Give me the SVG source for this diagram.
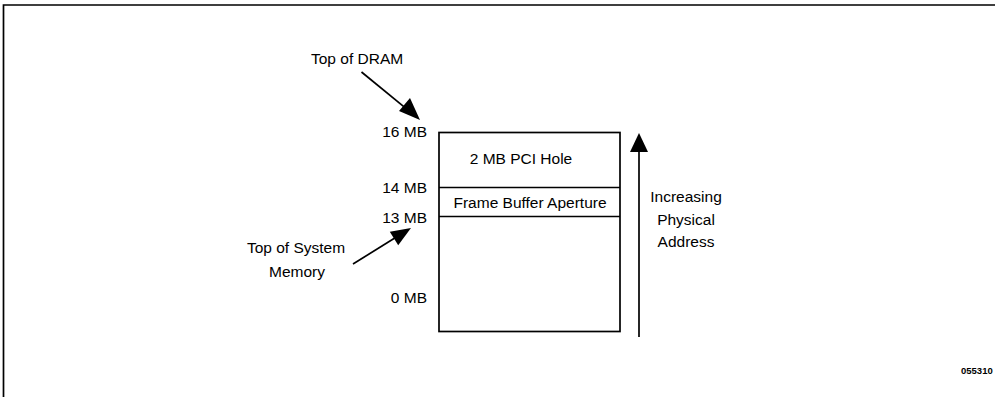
<svg xmlns="http://www.w3.org/2000/svg" width="995" height="397" viewBox="0 0 995 397">
<style>
  text { font-family: "Liberation Sans", Arial, sans-serif; fill: #000; }
  .lbl { font-size: 15.5px; }
  .mb { font-size: 15.5px; text-anchor: end; }
  .c { text-anchor: middle; }
  .ln { stroke: #000; stroke-width: 1.7; fill: none; }
</style>
<rect x="0" y="0" width="995" height="397" fill="#fff"/>
<g id="frame">
  <path d="M3.5,397 V5 H995" class="ln"/>
</g>
<g id="memory-map">
  <rect x="439" y="132.5" width="181" height="199" class="ln"/>
  <line x1="439" y1="187.5" x2="620" y2="187.5" class="ln"/>
  <line x1="439" y1="216.5" x2="620" y2="216.5" class="ln"/>
</g>
<g id="pci-hole">
  <text class="lbl c" x="521" y="164">2 MB PCI Hole</text>
</g>
<g id="frame-buffer">
  <text class="lbl c" x="530" y="208">Frame Buffer Aperture</text>
</g>
<g id="address-labels">
  <text class="mb" x="427" y="137">16 MB</text>
  <text class="mb" x="427" y="193">14 MB</text>
  <text class="mb" x="427" y="223">13 MB</text>
  <text class="mb" x="427" y="303">0 MB</text>
</g>
<g id="top-of-dram">
  <text class="lbl" x="311" y="64">Top of DRAM</text>
</g>
<g id="top-of-system-memory">
  <text class="lbl c" x="296" y="253">Top of System</text>
  <text class="lbl c" x="297" y="277">Memory</text>
</g>
<g id="increasing-address">
  <text class="lbl c" x="686" y="202">Increasing</text>
  <text class="lbl c" x="686" y="225">Physical</text>
  <text class="lbl c" x="686" y="247">Address</text>
</g>
<g id="figure-number">
  <text x="961" y="374" font-size="9.5" font-weight="bold">055310</text>
</g>
<g id="connectors">
  <line x1="361.5" y1="72" x2="405" y2="107.7" class="ln"/>
  <polygon points="420,120 399,111 410,98" fill="#000"/>
  <line x1="353" y1="264" x2="396" y2="237.3" class="ln"/>
  <polygon points="411,228 398.2,245.3 389.8,231.7" fill="#000"/>
  <line x1="639" y1="337" x2="639" y2="150" class="ln"/>
  <polygon points="639,133 630,152 648,152" fill="#000"/>
</g>
</svg>
